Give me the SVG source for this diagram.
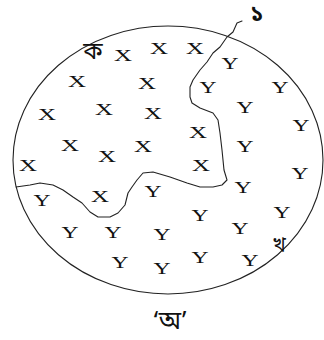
<svg xmlns="http://www.w3.org/2000/svg" width="324" height="340" viewBox="0 0 324 340">
<style>
.l{font-family:"Liberation Serif","Times New Roman",serif;font-size:17px;fill:#111;text-anchor:middle}
.b{font-family:"Noto Sans Bengali","Noto Serif Bengali","Lohit Bengali","FreeSerif","Liberation Serif",serif;fill:#111;text-anchor:middle}
.ln{fill:none;stroke:#222;stroke-width:1.1;stroke-linejoin:round;stroke-linecap:round}
</style>
<rect width="324" height="340" fill="#fff"/>
<g id="circle">
<ellipse class="ln" cx="168" cy="160" rx="155" ry="134"/>
</g>
<g id="connectors">
<path class="ln" d="M242,21 L237,23 L233,32 L227,37 L220,47 L213,53 L207,62 L200,70 L193,80 L190,87 L190,97 L192,103 L200,108 L213,113 L218,120 L220,133 L222,150 L224,170 L227,180 L222,185 L213,187 L200,187 L187,183 L170,177 L153,172 L143,173 L137,180 L132,187 L128,193 L125,205 L118,213 L110,217 L98,217 L90,212 L82,203 L73,197 L63,190 L53,185 L40,183 L30,185 L16,187"/>
</g>
<g id="labels">
<text class="b" x="257" y="21" font-size="22" font-weight="bold">১</text>
<text class="b" x="93" y="59" font-size="24">ক</text>
<text class="b" x="279" y="251" font-size="20">খ</text>
<text class="b" x="170" y="329" font-size="25">‘অ’</text>
</g>
<g id="xs">
<text class="l" x="123" y="61" textLength="18" lengthAdjust="spacingAndGlyphs">X</text>
<text class="l" x="159" y="54" textLength="18" lengthAdjust="spacingAndGlyphs">X</text>
<text class="l" x="195" y="54" textLength="18" lengthAdjust="spacingAndGlyphs">X</text>
<text class="l" x="77" y="87" textLength="18" lengthAdjust="spacingAndGlyphs">X</text>
<text class="l" x="147" y="89" textLength="18" lengthAdjust="spacingAndGlyphs">X</text>
<text class="l" x="47" y="120" textLength="18" lengthAdjust="spacingAndGlyphs">X</text>
<text class="l" x="104" y="115" textLength="18" lengthAdjust="spacingAndGlyphs">X</text>
<text class="l" x="153" y="119" textLength="18" lengthAdjust="spacingAndGlyphs">X</text>
<text class="l" x="198" y="138" textLength="18" lengthAdjust="spacingAndGlyphs">X</text>
<text class="l" x="70" y="151" textLength="18" lengthAdjust="spacingAndGlyphs">X</text>
<text class="l" x="107" y="162" textLength="18" lengthAdjust="spacingAndGlyphs">X</text>
<text class="l" x="143" y="152" textLength="18" lengthAdjust="spacingAndGlyphs">X</text>
<text class="l" x="28" y="171" textLength="18" lengthAdjust="spacingAndGlyphs">X</text>
<text class="l" x="201" y="171" textLength="18" lengthAdjust="spacingAndGlyphs">X</text>
<text class="l" x="100" y="202" textLength="18" lengthAdjust="spacingAndGlyphs">X</text>
</g>
<g id="ys">
<text class="l" x="230" y="69" textLength="17" lengthAdjust="spacingAndGlyphs">Y</text>
<text class="l" x="208" y="93" textLength="17" lengthAdjust="spacingAndGlyphs">Y</text>
<text class="l" x="280" y="93" textLength="17" lengthAdjust="spacingAndGlyphs">Y</text>
<text class="l" x="245" y="113" textLength="17" lengthAdjust="spacingAndGlyphs">Y</text>
<text class="l" x="301" y="131" textLength="17" lengthAdjust="spacingAndGlyphs">Y</text>
<text class="l" x="245" y="152" textLength="17" lengthAdjust="spacingAndGlyphs">Y</text>
<text class="l" x="300" y="179" textLength="17" lengthAdjust="spacingAndGlyphs">Y</text>
<text class="l" x="42" y="206" textLength="17" lengthAdjust="spacingAndGlyphs">Y</text>
<text class="l" x="153" y="197" textLength="17" lengthAdjust="spacingAndGlyphs">Y</text>
<text class="l" x="243" y="193" textLength="17" lengthAdjust="spacingAndGlyphs">Y</text>
<text class="l" x="200" y="221" textLength="17" lengthAdjust="spacingAndGlyphs">Y</text>
<text class="l" x="282" y="218" textLength="17" lengthAdjust="spacingAndGlyphs">Y</text>
<text class="l" x="70" y="238" textLength="17" lengthAdjust="spacingAndGlyphs">Y</text>
<text class="l" x="113" y="238" textLength="17" lengthAdjust="spacingAndGlyphs">Y</text>
<text class="l" x="162" y="240" textLength="17" lengthAdjust="spacingAndGlyphs">Y</text>
<text class="l" x="240" y="234" textLength="17" lengthAdjust="spacingAndGlyphs">Y</text>
<text class="l" x="120" y="268" textLength="17" lengthAdjust="spacingAndGlyphs">Y</text>
<text class="l" x="162" y="274" textLength="17" lengthAdjust="spacingAndGlyphs">Y</text>
<text class="l" x="200" y="263" textLength="17" lengthAdjust="spacingAndGlyphs">Y</text>
<text class="l" x="250" y="266" textLength="17" lengthAdjust="spacingAndGlyphs">Y</text>
</g>
</svg>
